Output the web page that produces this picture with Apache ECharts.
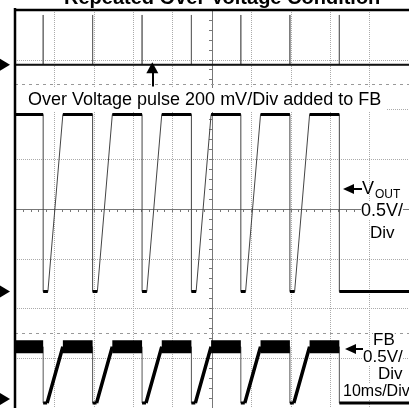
<!DOCTYPE html>
<html>
<head>
    <meta charset="utf-8">
    <script src="https://cdn.jsdelivr.net/npm/echarts@6/dist/echarts.min.js"></script>
    <style>
        html, body { margin: 0; padding: 0; background: #fff; }
    </style>
</head>
<body>
    <div id="main" style="width: 409px;height:408px;"></div>
    <script type="text/javascript">
        // time in ms relative to screen centre (10 ms/div), level in divisions
        var ovPulseTrace = [
            [-50, 2.9], [-42.85, 2.9], [-42.85, 3.9], [-42.85, 2.9],
            [-30.3, 2.9], [-30.3, 3.9], [-30.3, 2.9],
            [-17.75, 2.9], [-17.75, 3.9], [-17.75, 2.9],
            [-5.23, 2.9], [-5.23, 3.9], [-5.23, 2.9],
            [7.32, 2.9], [7.32, 3.9], [7.32, 2.9],
            [19.77, 2.9], [19.77, 3.9], [19.77, 2.9],
            [32.32, 2.9], [32.32, 3.9], [32.32, 2.9], [50, 2.9]
        ];
        var voutTrace = [
            [-50, 1.9], [-42.85, 1.9], [-42.85, -1.66], [-41.65, -1.66], [-37.85, 1.9],
            [-30.3, 1.9], [-30.3, -1.66], [-29.1, -1.66], [-25.3, 1.9],
            [-17.75, 1.9], [-17.75, -1.66], [-16.55, -1.66], [-12.75, 1.9],
            [-5.23, 1.9], [-5.23, -1.66], [-4.03, -1.66], [-0.23, 1.9],
            [7.32, 1.9], [7.32, -1.66], [8.52, -1.66], [12.32, 1.9],
            [19.77, 1.9], [19.77, -1.66], [20.97, -1.66], [24.77, 1.9],
            [32.32, 1.9], [32.32, -1.66], [50, -1.66]
        ];
        var fbTrace = [
            [-50, -2.77], [-42.85, -2.77], [-42.85, -3.9], [-41.85, -3.9], [-37.85, -2.77],
            [-30.3, -2.77], [-30.3, -3.9], [-29.3, -3.9], [-25.3, -2.77],
            [-17.75, -2.77], [-17.75, -3.9], [-16.75, -3.9], [-12.75, -2.77],
            [-5.23, -2.77], [-5.23, -3.9], [-4.23, -3.9], [-0.23, -2.77],
            [7.32, -2.77], [7.32, -3.9], [8.32, -3.9], [12.32, -2.77],
            [19.77, -2.77], [19.77, -3.9], [20.77, -3.9], [24.77, -2.77],
            [32.32, -2.77], [32.32, -3.9], [50, -3.9]
        ];
        var fbHighLevel = -2.77;
        var channelZero = [2.9, -1.66, -3.82];   // ground markers: pulse, VOUT, FB
        var cursorLevels = [2.5, -2.5];
        var arrowAt = [-15.15, 2.46, 2.84];       // x, from, to

        var font = "'Liberation Sans', Arial, sans-serif";

        function pickSegments(trace, test) {
            var out = [];
            for (var i = 0; i < trace.length - 1; i++) {
                var a = trace[i], b = trace[i + 1];
                if (test(a, b)) {
                    out.push(a, b, [b[0], '-']);
                }
            }
            return out;
        }
        function isFlat(a, b) { return a[1] === b[1] && a[0] !== b[0]; }
        function isRamp(a, b) { return a[1] !== b[1] && a[0] !== b[0]; }

        function zeroMarker(level) {
            return {
                silent: true,
                label: { show: false },
                data: [{
                    coord: [-50, level], symbol: 'triangle', symbolRotate: -90,
                    symbolSize: [12, 10], symbolOffset: [-10, 0],
                    itemStyle: { color: '#000' }
                }]
            };
        }

        function trace(name, data, color, width, extra) {
            var s = {
                name: name, type: 'line', data: data, showSymbol: false, symbol: 'none',
                connectNulls: false, silent: true,
                lineStyle: { color: color, width: width, cap: 'butt' }
            };
            for (var k in extra) s[k] = extra[k];
            return s;
        }

        var myChart = echarts.init(document.getElementById('main'));
        var option = {
            animation: false,
            backgroundColor: '#fff',
            title: {
                text: 'Repeated Over Voltage Condition',
                left: 64, top: -12, padding: 0,
                textStyle: { fontFamily: font, fontSize: 20, fontWeight: 'bold', color: '#000' }
            },
            grid: { left: 15, top: 10, right: -2, bottom: -2, show: false },
            xAxis: {
                type: 'value', min: -50, max: 50, interval: 10,
                axisLine: { show: true, onZero: true, lineStyle: { color: '#777', width: 1 } },
                axisTick: { show: true, length: 3, lineStyle: { color: '#777' } },
                minorTick: { show: true, splitNumber: 5, length: 3, lineStyle: { color: '#777' } },
                axisLabel: { show: false },
                splitLine: { show: true, lineStyle: { color: '#aaa', type: 'dotted', width: 1 } }
            },
            yAxis: {
                type: 'value', min: -4, max: 4, interval: 1,
                axisLine: { show: true, onZero: true, lineStyle: { color: '#777', width: 1 } },
                axisTick: { show: true, length: 3, lineStyle: { color: '#777' } },
                minorTick: { show: true, splitNumber: 5, length: 3, lineStyle: { color: '#777' } },
                axisLabel: { show: false },
                splitLine: { show: true, lineStyle: { color: '#aaa', type: 'dotted', width: 1 } }
            },
            series: [
                trace('OV pulse', ovPulseTrace, '#666', 1, {
                    markPoint: zeroMarker(channelZero[0]),
                    markLine: {
                        silent: true, symbol: ['none', 'triangle'], symbolSize: [12, 11],
                        label: { show: false },
                        lineStyle: { color: '#000', width: 2, type: 'solid' },
                        data: [[{ coord: [arrowAt[0], arrowAt[1]] }, { coord: [arrowAt[0], arrowAt[2]] }]]
                    }
                }),
                trace('OV pulse base', pickSegments(ovPulseTrace, isFlat), '#111', 2, {
                    markLine: {
                        silent: true, symbol: 'none', label: { show: false },
                        lineStyle: { color: '#999', width: 1, type: [3, 4] },
                        data: cursorLevels.map(function (v) { return { yAxis: v }; })
                    }
                }),
                trace('VOUT', voutTrace, '#444', 1, { markPoint: zeroMarker(channelZero[1]) }),
                trace('VOUT flat', pickSegments(voutTrace, isFlat), '#000', 3),
                trace('FB', fbTrace, '#555', 1, { markPoint: zeroMarker(channelZero[2]) }),
                trace('FB ramp', pickSegments(fbTrace, isRamp), '#000', 3.5),
                trace('FB high', pickSegments(fbTrace, function (a, b) {
                    return isFlat(a, b) && a[1] === fbHighLevel;
                }), '#000', 13),
                trace('FB low', pickSegments(fbTrace, function (a, b) {
                    return isFlat(a, b) && a[1] !== fbHighLevel;
                }), '#000', 3)
            ],
            graphic: [
                // scope frame: only the left and top edges fall inside the picture
                { type: 'line', z: 90, shape: { x1: 15, y1: 8, x2: 15, y2: 408 }, style: { stroke: '#000', lineWidth: 2.5 } },
                { type: 'line', z: 90, shape: { x1: 14, y1: 10, x2: 409, y2: 10 }, style: { stroke: '#000', lineWidth: 2.5 } },

                { type: 'rect', z: 100, shape: { x: 17, y: 88, width: 370, height: 24 }, style: { fill: '#fff' } },
                { type: 'text', z: 101, x: 28, y: 100, style: { text: 'Over Voltage pulse 200 mV/Div added to FB', font: '18px ' + font, fill: '#000', verticalAlign: 'middle' } },

                { type: 'polygon', z: 101, shape: { points: [[343, 189], [354, 184], [354, 194]] }, style: { fill: '#000' } },
                { type: 'line', z: 101, shape: { x1: 352, y1: 189, x2: 362, y2: 189 }, style: { stroke: '#000', lineWidth: 2 } },
                { type: 'text', z: 101, x: 362, y: 189, style: { text: 'V', font: '18px ' + font, fill: '#000', verticalAlign: 'middle' } },
                { type: 'text', z: 101, x: 375, y: 195, style: { text: 'OUT', font: '12px ' + font, fill: '#000', verticalAlign: 'middle' } },
                { type: 'text', z: 101, x: 361, y: 211, style: { text: '0.5V/', font: '18px ' + font, fill: '#000', verticalAlign: 'middle', backgroundColor: '#fff' } },
                { type: 'text', z: 101, x: 370, y: 233, style: { text: 'Div', font: '17px ' + font, fill: '#000', verticalAlign: 'middle', backgroundColor: '#fff' } },

                { type: 'text', z: 101, x: 373, y: 340, style: { text: 'FB', font: '17px ' + font, fill: '#000', verticalAlign: 'middle', backgroundColor: '#fff' } },
                { type: 'polygon', z: 101, shape: { points: [[345, 349], [356, 344], [356, 354]] }, style: { fill: '#000' } },
                { type: 'line', z: 101, shape: { x1: 354, y1: 349, x2: 363, y2: 349 }, style: { stroke: '#000', lineWidth: 2 } },
                { type: 'text', z: 101, x: 363, y: 357, style: { text: '0.5V/', font: '17px ' + font, fill: '#000', verticalAlign: 'middle', backgroundColor: '#fff' } },
                { type: 'text', z: 101, x: 378, y: 374, style: { text: 'Div', font: '17px ' + font, fill: '#000', verticalAlign: 'middle', backgroundColor: '#fff' } },
                { type: 'text', z: 101, x: 343, y: 392, style: { text: '10ms/Div', font: '16px ' + font, fill: '#000', verticalAlign: 'middle', backgroundColor: '#fff' } }
            ]
        };
        myChart.setOption(option);
    </script>
</body>
</html>
